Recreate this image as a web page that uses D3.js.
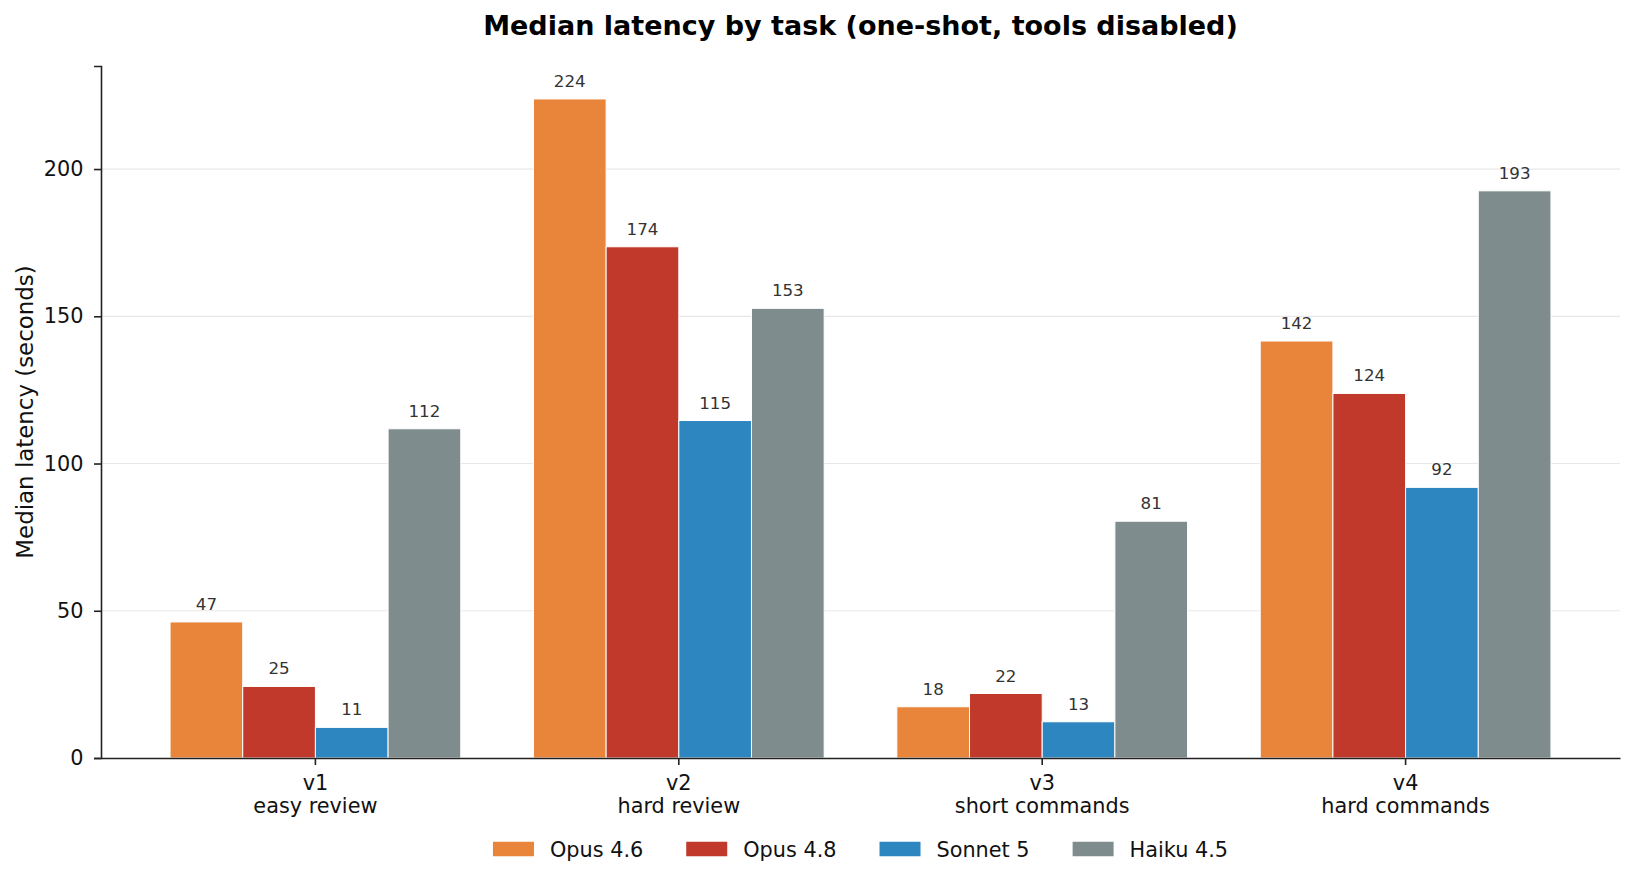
<!DOCTYPE html>
<html>
<head>
<meta charset="utf-8">
<script src="https://cdn.jsdelivr.net/npm/d3@7"></script>
<style>
  body { margin: 0; background: #fff; }
  svg { display: block; font-family: "DejaVu Sans", sans-serif; }
</style>
</head>
<body>
<svg id="chart"></svg>
<script>
var width = 1635
var height = 883
var margin = {top: 66, right: 15, bottom: 125, left: 101}

// data
var tasks = ["v1", "v2", "v3", "v4"]
var taskNames = ["easy review", "hard review", "short commands", "hard commands"]
var models = ["Opus 4.6", "Opus 4.8", "Sonnet 5", "Haiku 4.5"]
var colors = ["#e8853a", "#c0392b", "#2e86c1", "#7f8c8d"]
var opus46 = [46.2, 223.8, 17.4, 141.6]
var opus48 = [24.3, 173.6, 21.9, 123.8]
var sonnet5 = [10.4, 114.6, 12.3, 91.9]
var haiku45 = [111.8, 152.7, 80.4, 192.6]
var yTicks = [0, 50, 100, 150, 200]

var series = [opus46, opus48, sonnet5, haiku45]

var svg = d3.select("#chart")
  .attr("width", width)
  .attr("height", height)

var x = d3.scaleBand()
  .domain(tasks)
  .range([margin.left, width - margin.right])
  .paddingInner(0.2)
  .paddingOuter(0.19)

var xInner = d3.scaleBand()
  .domain(models)
  .range([0, x.bandwidth()])

var ymax = d3.max(series, s => d3.max(s)) * 1.05
var y = d3.scaleLinear()
  .domain([0, ymax])
  .range([height - margin.bottom, margin.top])

// grid
svg.append("g")
  .selectAll("line")
  .data(yTicks.filter(d => d > 0))
  .join("line")
  .attr("x1", margin.left)
  .attr("x2", width - margin.right)
  .attr("y1", d => y(d))
  .attr("y2", d => y(d))
  .attr("stroke", "#e8e8e8")
  .attr("stroke-width", 1.2)

// bars
var groups = svg.append("g")
  .selectAll("g")
  .data(models)
  .join("g")
  .attr("fill", (d, i) => colors[i])

groups.selectAll("rect")
  .data((m, i) => series[i].map((v, j) => ({task: tasks[j], model: m, value: v})))
  .join("rect")
  .attr("x", d => x(d.task) + xInner(d.model))
  .attr("width", xInner.bandwidth())
  .attr("y", d => y(d.value))
  .attr("height", d => y(0) - y(d.value))
  .attr("stroke", "#fff")
  .attr("stroke-width", 1)

// value labels
groups.selectAll("text")
  .data((m, i) => series[i].map((v, j) => ({task: tasks[j], model: m, value: v})))
  .join("text")
  .attr("x", d => x(d.task) + xInner(d.model) + xInner.bandwidth() / 2)
  .attr("y", d => y(d.value) - 12)
  .attr("text-anchor", "middle")
  .attr("fill", "#333")
  .style("font-size", "16.7px")
  .text(d => Math.ceil(d.value))

// y axis
var yAxis = svg.append("g")
  .attr("transform", `translate(${margin.left},0)`)
  .call(d3.axisLeft(y).tickValues(yTicks).tickSize(7).tickPadding(10.5).tickFormat(d3.format("d")))
yAxis.select(".domain").attr("stroke", "#222").attr("stroke-width", 1.6)
yAxis.selectAll(".tick line").attr("stroke", "#222").attr("stroke-width", 1.6)
yAxis.selectAll(".tick text")
  .attr("fill", "#111")
  .style("font-family", "DejaVu Sans")
  .style("font-size", "20.8px")

// x axis
var xAxis = svg.append("g")
  .attr("transform", `translate(0,${height - margin.bottom})`)
  .call(d3.axisBottom(x).tickSize(7).tickSizeOuter(0).tickFormat(""))
xAxis.select(".domain").attr("stroke", "#222").attr("stroke-width", 1.6)
xAxis.selectAll(".tick line").attr("stroke", "#222").attr("stroke-width", 1.6)

var xl = svg.append("g")
  .selectAll("text")
  .data(tasks)
  .join("text")
  .attr("text-anchor", "middle")
  .attr("fill", "#111")
  .style("font-size", "20.8px")
  .attr("transform", d => `translate(${x(d) + x.bandwidth() / 2},${height - margin.bottom})`)
xl.append("tspan").attr("x", 0).attr("y", 31.5).text(d => d)
xl.append("tspan").attr("x", 0).attr("y", 54.8).text((d, i) => taskNames[i])

// y label
svg.append("text")
  .attr("transform", `translate(33,${(margin.top + height - margin.bottom) / 2}) rotate(-90)`)
  .attr("text-anchor", "middle")
  .attr("fill", "#111")
  .style("font-size", "22.9px")
  .text("Median latency (seconds)")

// title
svg.append("text")
  .attr("x", (margin.left + width - margin.right) / 2)
  .attr("y", 35)
  .attr("text-anchor", "middle")
  .attr("fill", "#000")
  .style("font-size", "27px")
  .style("font-weight", "bold")
  .text("Median latency by task (one-shot, tools disabled)")

// legend
var legend = svg.append("g")
var items = legend.selectAll("g")
  .data(models)
  .join("g")
items.append("rect")
  .attr("width", 41)
  .attr("height", 14.5)
  .attr("y", -7.25)
  .attr("fill", (d, i) => colors[i])
items.append("text")
  .attr("x", 57)
  .attr("y", 7.5)
  .attr("fill", "#111")
  .style("font-size", "20.8px")
  .text(d => d)

var offs = 0
var pos = []
items.each(function() {
  var tw = d3.select(this).select("text").node().getComputedTextLength()
  pos.push(offs)
  offs += 57 + tw + 43
})
offs -= 43
var lx = (margin.left + width - margin.right) / 2 - offs / 2
items.attr("transform", (d, i) => `translate(${lx + pos[i]},849)`)
</script>
</body>
</html>
